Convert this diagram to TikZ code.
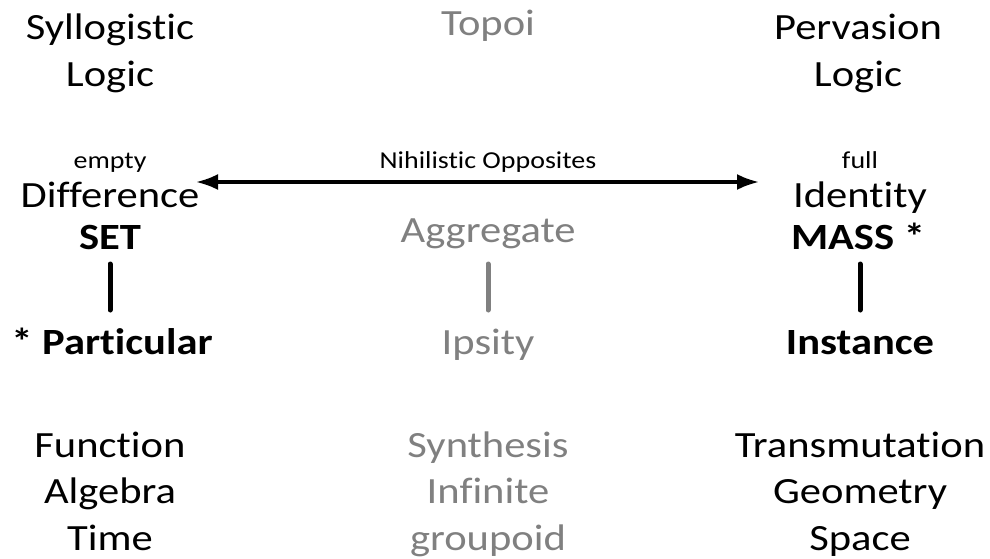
\documentclass[tikz,border=0pt]{standalone}
\usepackage{fontspec}
\setmainfont{Carlito}[Ligatures={NoCommon}, FakeStretch=1.15]
\usetikzlibrary{arrows.meta}
\definecolor{softgray}{RGB}{128,128,128}
\tikzset{
  big/.style={font=\fontsize{37}{42}\selectfont, inner sep=0pt, anchor=base},
  bigbold/.style={font=\fontsize{37}{42}\selectfont\bfseries, inner sep=0pt, anchor=base},
  small/.style={font=\fontsize{24.3}{29}\selectfont, inner sep=0pt, anchor=base},
  faded/.style={text=softgray},
  bar/.style={line width=5pt, line cap=round},
  twoway/.style={line width=3.2pt, {Latex[length=22pt,width=16pt]}-{Latex[length=22pt,width=16pt]}},
}
\begin{document}
\begin{tikzpicture}[x=1pt,y=-1pt]
\useasboundingbox (0,0) rectangle (990,558);

% top row
\node[big] (syl) at (110,39) {Syllogistic};
\node[big] (sylb) at (110,86) {Logic};
\node[big,faded] (topoi) at (488,35) {Topoi};
\node[big] (perv) at (858,39) {Pervasion};
\node[big] (pervb) at (858,86) {Logic};

% opposites row
\node[small] (empty) at (110,168) {empty};
\node[big] (diff) at (110,207) {Difference};
\node[bigbold] (set) at (110,249) {SET};
\node[small] (opp) at (488,168) {Nihilistic Opposites};
\node[big,faded] (aggr) at (488,242) {Aggregate};
\node[small] (full) at (860,168) {full};
\node[big] (ident) at (860,207) {Identity};
\node[bigbold] (mass) at (858,249) {MASS *};

\coordinate (arrL) at (196,182);
\coordinate (arrR) at (759,182);
\draw[twoway] (arrL) -- (arrR);

% vertical links
\node[bigbold] (part) at (112,354) {* Particular};
\node[big,faded] (ips) at (488,354) {Ipsity};
\node[bigbold] (inst) at (860,354) {Instance};
\draw[bar] (110,264) -- (110,310);
\draw[bar,draw=softgray] (488,264) -- (488,310);
\draw[bar] (860,264) -- (860,310);

% bottom rows
\node[big] (func) at (110,457) {Function};
\node[big] (alg) at (110,503) {Algebra};
\node[big] (time) at (110,550) {Time};
\node[big,faded] (synth) at (488,457) {Synthesis};
\node[big,faded] (inf) at (488,503) {Infinite};
\node[big,faded] (grp) at (488,550) {groupoid};
\node[big] (trans) at (860,457) {Transmutation};
\node[big] (geom) at (860,503) {Geometry};
\node[big] (space) at (860,550) {Space};
\end{tikzpicture}
\end{document}
